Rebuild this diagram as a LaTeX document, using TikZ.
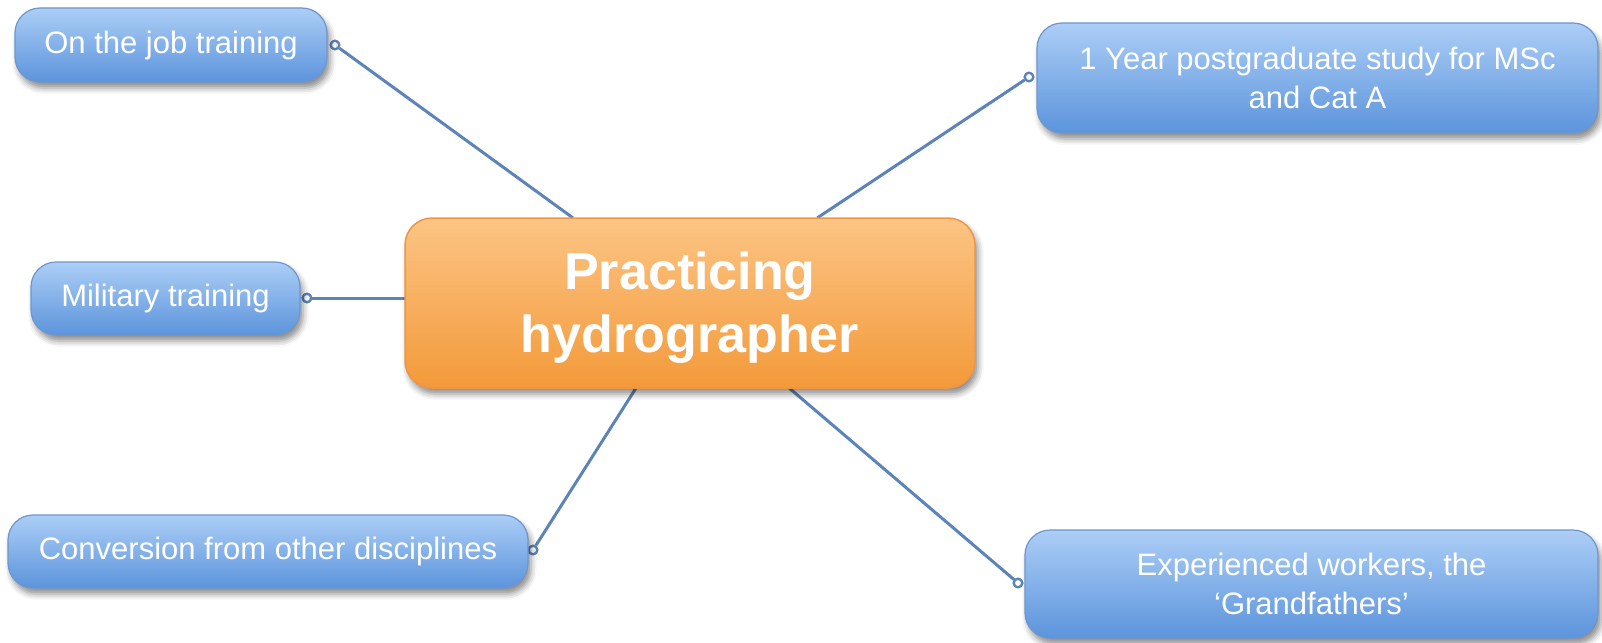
\documentclass[tikz,border=0pt]{standalone}
\usepackage{fontspec}
\setmainfont{Liberation Sans}
\usetikzlibrary{shadows.blur}
\definecolor{bluetop}{RGB}{172,206,246}
\definecolor{bluebot}{RGB}{92,148,220}
\definecolor{blueedge}{RGB}{110,150,205}
\definecolor{orgtop}{RGB}{252,196,132}
\definecolor{orgbot}{RGB}{243,154,58}
\definecolor{orgedge}{RGB}{236,150,70}
\definecolor{linkcol}{RGB}{92,132,184}
\tikzset{
  leaf/.style={draw=blueedge, line width=1.2pt, rounded corners=25pt,
    top color=bluetop, bottom color=bluebot, text=white, align=center,
    inner sep=0pt, font=\fontsize{31}{39}\selectfont,
    blur shadow={shadow xshift=3pt, shadow yshift=-6pt, shadow blur radius=6pt, shadow opacity=45}},
  hub/.style={draw=orgedge, line width=1.5pt, rounded corners=27pt,
    top color=orgtop, bottom color=orgbot, inner sep=0pt,
    blur shadow={shadow xshift=3pt, shadow yshift=-6pt, shadow blur radius=6pt, shadow opacity=45}},
  hubtext/.style={text=white, align=center, inner sep=0pt,
    font=\fontsize{52}{63}\selectfont\bfseries},
  dot/.style={circle, draw=linkcol, line width=2.2pt, fill=white, inner sep=0pt, minimum size=8.5pt},
  link/.style={draw=linkcol, line width=3pt}
}
\begin{document}
\begin{tikzpicture}[x=1pt,y=-1pt]
\useasboundingbox (0,0) rectangle (1602,642);
% connector ends
\node[dot] (d1) at (335,45) {};
\node[dot] (d2) at (1029,77) {};
\node[dot] (d3) at (307,298) {};
\node[dot] (d4) at (533,550) {};
\node[dot] (d5) at (1018,583) {};
% hub outline placeholder (for connector clipping)
\path (690,303) node[minimum width=570pt, minimum height=170pt, inner sep=0pt] (ctr) {};
% connectors
\draw[link] (ctr) -- (d1);
\draw[link] (ctr) -- (d2);
\draw[link] (d3) -- (d3 -| ctr.west);
\draw[link] (ctr) -- (d4);
\draw[link] (ctr) -- (d5);
% dots above the lines
\node[dot] at (d1) {};
\node[dot] at (d2) {};
\node[dot] at (d3) {};
\node[dot] at (d4) {};
\node[dot] at (d5) {};
% boxes
\node[hub, minimum width=570pt, minimum height=170pt] (hubbox) at (ctr) {};
\node[hubtext] (hubtxt) at ([yshift=-5pt]ctr) {Practicing\\hydrographer};
\node[leaf, minimum width=312pt, minimum height=74pt] (ojt) at (171,45) {On the job training};
\node[leaf, minimum width=561pt, minimum height=110pt] (msc) at (1317.5,78) {1 Year postgraduate study for MSc\\and Cat A};
\node[leaf, minimum width=269pt, minimum height=73pt] (mil) at (165.5,298.5) {Military training};
\node[leaf, minimum width=520pt, minimum height=73pt] (conv) at (268,551.5) {Conversion from other disciplines};
\node[leaf, minimum width=573pt, minimum height=108pt] (exp) at (1311.5,584) {Experienced workers, the\\`Grandfathers'};
\end{tikzpicture}
\end{document}
